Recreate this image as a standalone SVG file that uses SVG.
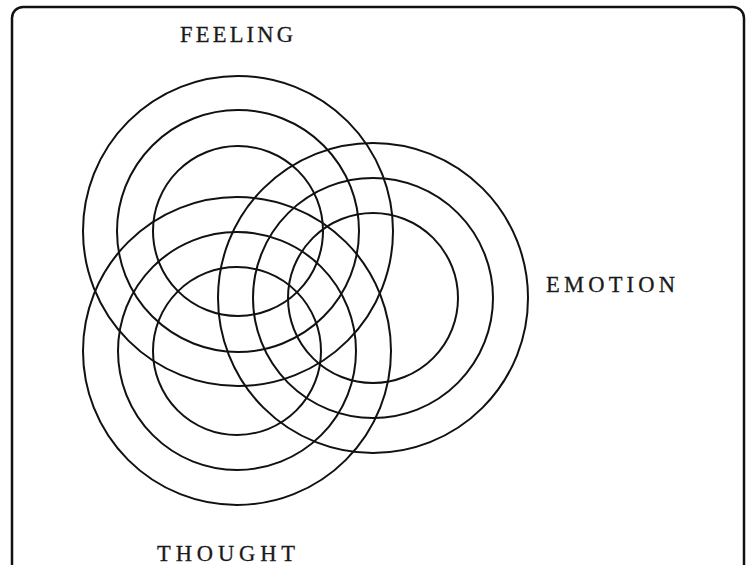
<svg xmlns="http://www.w3.org/2000/svg" width="748" height="565" viewBox="0 0 748 565">
<style>
.ring{fill:none;stroke:#111;stroke-width:2}
.lbl{font-family:"Liberation Serif","Times New Roman",serif;font-size:22.5px;fill:#1a1a1a;stroke:#1a1a1a;stroke-width:0.3}
</style>
<rect x="0" y="0" width="748" height="565" fill="#fff"/>
<rect x="12" y="7" width="732" height="580" rx="11" ry="11" fill="none" stroke="#111" stroke-width="2.5"/>
<g id="feeling">
<circle class="ring" cx="238" cy="231" r="155"/>
<circle class="ring" cx="238" cy="231" r="121"/>
<circle class="ring" cx="238" cy="231" r="85"/>
<text class="lbl" x="180" y="42" textLength="113" lengthAdjust="spacing">FEELING</text>
</g>
<g id="emotion">
<circle class="ring" cx="373" cy="298" r="155"/>
<circle class="ring" cx="373" cy="298" r="120"/>
<circle class="ring" cx="373" cy="298" r="85"/>
<text class="lbl" x="546" y="292" textLength="129" lengthAdjust="spacing">EMOTION</text>
</g>
<g id="thought">
<circle class="ring" cx="237" cy="351" r="154"/>
<circle class="ring" cx="237" cy="351" r="119"/>
<circle class="ring" cx="237" cy="351" r="84"/>
<text class="lbl" x="157" y="561" textLength="138" lengthAdjust="spacing">THOUGHT</text>
</g>
<g id="connectors"></g>
</svg>
